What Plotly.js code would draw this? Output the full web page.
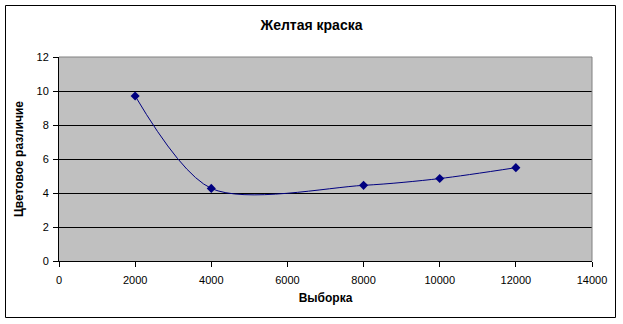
<!DOCTYPE html>
<html><head><meta charset="utf-8">
<script src="https://cdn.plot.ly/plotly-3.0.1.min.js"></script>
<style>body{margin:0;background:#fff}#c{width:623px;height:324px}</style>
</head><body><div id="c"></div>
<script>
const sampleSizes = [2000, 4000, 8000, 10000, 12000];
const colorDiff = [9.71, 4.27, 4.45, 4.85, 5.49];
const chartTitle = 'Желтая краска';
const xTitle = 'Выборка';
const yTitle = 'Цветовое различие';

const L = 59, R = 592, T = 57, B = 261, W = 623, H = 324;
const pw = R - L, ph = B - T;
const px = v => (v - L) / pw, py = v => (B - v) / ph;
const font = 'Liberation Sans, Arial, sans-serif';

const trace = {
  x: sampleSizes, y: colorDiff, type: 'scatter', mode: 'lines+markers',
  line: {color: '#000080', width: 1, shape: 'spline', smoothing: 0.85},
  marker: {symbol: 'diamond', size: 7, color: '#000080'}
};
const layout = {
  width: W, height: H,
  margin: {l: L, r: W - R, t: T, b: H - B, pad: 0},
  paper_bgcolor: '#fff', plot_bgcolor: '#c0c0c0',
  showlegend: false,
  font: {family: font, size: 11, color: '#000'},
  title: {text: '<b>' + chartTitle + '</b>', font: {size: 14, family: font, color: '#000'},
          x: 0.5, xref: 'container', y: 1 - 25 / H, yref: 'container', yanchor: 'middle'},
  xaxis: {range: [0, 14000], dtick: 2000, tickformat: 'd', showgrid: false, zeroline: false,
          showline: true, linecolor: '#000', linewidth: 1,
          ticks: 'outside', ticklen: 5, tickcolor: '#000', tickfont: {size: 11}, ticklabelstandoff: 4,
          title: {text: '<b>' + xTitle + '</b>', font: {size: 12}, standoff: 8}},
  yaxis: {range: [0, 12], dtick: 2, showgrid: true, gridcolor: '#000', gridwidth: 1,
          zeroline: false, showline: true, linecolor: '#000', linewidth: 1,
          ticks: 'outside', ticklen: 5, tickcolor: '#000', tickfont: {size: 11}, ticklabelstandoff: 2,
          title: {text: '<b>' + yTitle + '</b>', font: {size: 12}, standoff: 10}},
  shapes: [
    {type: 'line', xref: 'paper', yref: 'paper', x0: 0, x1: 1, y0: 1, y1: 1, line: {color: '#808080', width: 1}},
    {type: 'line', xref: 'paper', yref: 'paper', x0: 1, x1: 1, y0: 0, y1: 1, line: {color: '#808080', width: 1}},
    {type: 'rect', xref: 'paper', yref: 'paper', x0: px(5.5), x1: px(615.5), y0: py(317.5), y1: py(5.5),
     line: {color: '#000', width: 1}, fillcolor: 'rgba(0,0,0,0)', layer: 'below'}
  ]
};
Plotly.newPlot('c', [trace], layout, {staticPlot: true, displayModeBar: false});
</script></body></html>
